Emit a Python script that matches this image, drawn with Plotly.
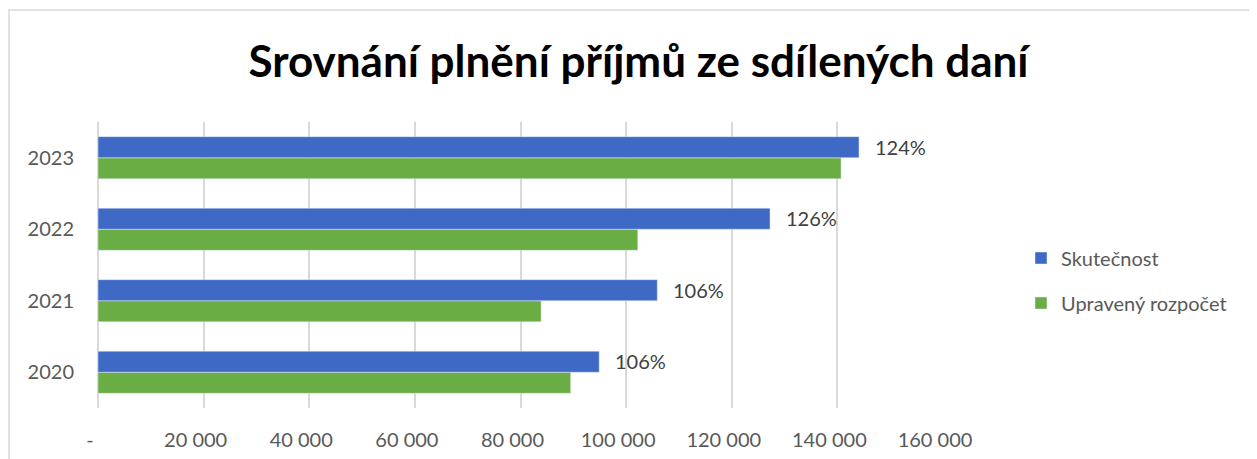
import plotly.graph_objects as go

years = ["2020", "2021", "2022", "2023"]
skutecnost = [94900, 105900, 127250, 144100]
upraveny_rozpocet = [89500, 83900, 102200, 140700]
plneni_labels = ["106%", "106%", "126%", "124%"]
x_tick_values = [0, 20000, 40000, 60000, 80000, 100000, 120000, 140000, 160000]
x_tick_labels = ["-", "20 000", "40 000", "60 000", "80 000", "100 000", "120 000", "140 000", "160 000"]

FONT = "Lato"
# the page body has an 8px margin, so the figure is sized to fit the 1257x459 window
W, H = 1249, 451
L, R, T, B = 90, 314, 114, 51

fig = go.Figure()
fig.add_trace(go.Bar(
    y=years, x=upraveny_rozpocet, orientation="h", name="Upravený rozpočet",
    marker=dict(color="#6AAD45"), legendrank=2, legendgroup="u",
))
fig.add_trace(go.Bar(
    y=years, x=skutecnost, orientation="h", name="Skutečnost",
    marker=dict(color="#3E6AC6"), legendrank=1, legendgroup="s",
))

# labels next to the "Skutečnost" bars (category index used as position)
for i, (xv, lab) in enumerate(zip(skutecnost, plneni_labels)):
    fig.add_annotation(x=xv, y=i, xref="x", yref="y", text=lab, showarrow=False,
                       xanchor="left", yanchor="middle", xshift=14, yshift=11,
                       font=dict(family=FONT, size=20, color="#404040"))

pw = W - L - R
ph = H - T - B
fig.add_shape(type="rect", xref="paper", yref="paper",
              x0=(1 - L) / pw, x1=(W + 20 - L) / pw,
              y0=-(B + 20) / ph, y1=((H - B) - 2) / ph,
              line=dict(color="#D9D9D9", width=1.5), fillcolor="rgba(0,0,0,0)", layer="below")

fig.update_layout(
    width=W, height=H,
    margin=dict(l=L, r=R, t=T, b=B, pad=0),
    paper_bgcolor="white", plot_bgcolor="white",
    barmode="group", bargap=0.41, bargroupgap=0,
    title=dict(text="<b>Srovnání plnění příjmů ze sdílených daní</b>",
               x=630.5 / W, xanchor="center", xref="container",
               y=1 - 53.5 / H, yanchor="middle", yref="container",
               font=dict(family=FONT, size=44, color="#000000")),
    xaxis=dict(range=[0, 160000], tickvals=x_tick_values, ticktext=x_tick_labels,
               showgrid=True, gridcolor="#D9D9D9", gridwidth=1.5,
               zeroline=True, zerolinecolor="#D9D9D9", zerolinewidth=1.5,
               showline=False, ticks="outside", ticklen=14, tickcolor="rgba(0,0,0,0)",
               ticklabelshift=-8, automargin=False,
               tickfont=dict(family=FONT, size=20, color="#595959"), fixedrange=True),
    yaxis=dict(type="category", categoryorder="array", categoryarray=years,
               range=[-0.5, len(years) - 0.5],
               showgrid=False, zeroline=False, showline=False,
               ticks="outside", ticklen=19, tickcolor="rgba(0,0,0,0)", automargin=False,
               tickfont=dict(family=FONT, size=20, color="#595959"), fixedrange=True),
    legend=dict(x=(1013 - L) / pw, xanchor="left", y=(H - B - 272.5) / ph, yanchor="middle",
                traceorder="grouped", tracegroupgap=16,
                font=dict(family=FONT, size=20, color="#595959"),
                bgcolor="rgba(0,0,0,0)"),
    showlegend=True,
)

fig.write_html("out.html")
